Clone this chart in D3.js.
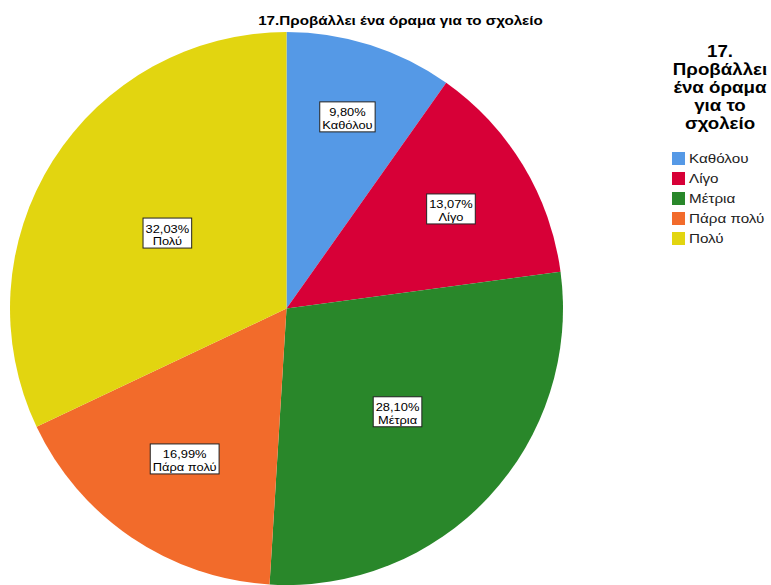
<!DOCTYPE html>
<html>
<head>
<meta charset="utf-8">
<script src="https://cdn.jsdelivr.net/npm/d3@7"></script>
<style>
  html, body { margin: 0; padding: 0; background: #fff; }
  svg { display: block; font-family: "Liberation Sans", Arial, sans-serif; }
</style>
</head>
<body>
<svg id="chart" width="771" height="585"></svg>
<script>
// Responses to "17.Προβάλλει ένα όραμα για το σχολείο" (percent of respondents)
const categories = ["Καθόλου", "Λίγο", "Μέτρια", "Πάρα πολύ", "Πολύ"];
const percents = [9.80, 13.07, 28.10, 16.99, 32.03];
const colors = ["#5599e6", "#d70037", "#29872a", "#f26b2b", "#e2d510"];
const chartTitle = "17.Προβάλλει ένα όραμα για το σχολείο";
const legendTitle = ["17.", "Προβάλλει", "ένα όραμα", "για το", "σχολείο"];

const svg = d3.select("#chart");
const cx = 286.5, cy = 308.5, radius = 276.5;
const stretch = 1.17; // horizontal widening applied to all text glyphs

const data = categories.map((c, i) => ({ category: c, value: percents[i] }));
const color = d3.scaleOrdinal().domain(categories).range(colors);

const pie = d3.pie().value(d => d.value).sort(null);
const arc = d3.arc().innerRadius(0).outerRadius(radius);
const arcs = pie(data);

const g = svg.append("g").attr("transform", `translate(${cx},${cy})`);

g.selectAll("path.slice")
  .data(arcs)
  .join("path")
  .attr("class", "slice")
  .attr("d", arc)
  .attr("fill", d => color(d.data.category));

// Appends a horizontally widened text element anchored at (x, y)
function addText(parent, x, y, str, opts) {
  return parent.append("text")
    .attr("transform", `translate(${x},${y}) scale(${stretch},1)`)
    .attr("text-anchor", opts.anchor || "start")
    .attr("font-size", opts.size)
    .attr("font-weight", opts.weight || "normal")
    .attr("fill", opts.fill || "#000")
    .text(str);
}

// Value labels: wider slices place their label nearer the centre
const fmt = v => v.toFixed(2).replace(".", ",") + "%";
const labels = g.selectAll("g.label")
  .data(arcs)
  .join("g")
  .attr("class", "label")
  .attr("transform", d => {
    const mid = (d.startAngle + d.endAngle) / 2;
    const half = (d.endAngle - d.startAngle) / 2;
    const dist = radius * (0.823 - 0.311 * half);
    return `translate(${dist * Math.sin(mid)},${-dist * Math.cos(mid)})`;
  });

labels.each(function(d) {
  const sel = d3.select(this);
  const t1 = addText(sel, 0, -0.5, fmt(d.data.value), { anchor: "middle", size: 11 });
  const t2 = addText(sel, 0, 12, d.data.category, { anchor: "middle", size: 11 });
  const w = Math.max(t1.node().getComputedTextLength(), t2.node().getComputedTextLength()) * stretch + 5;
  sel.insert("rect", "text")
    .attr("x", -w / 2)
    .attr("y", -15)
    .attr("width", w)
    .attr("height", 30)
    .attr("fill", "#fff")
    .attr("stroke", "#222")
    .attr("stroke-width", 1);
});

// Chart title
addText(svg, 400.5, 25, chartTitle, { anchor: "middle", size: 13, weight: "bold" });

// Legend
const legend = svg.append("g");
legendTitle.forEach((line, i) => {
  addText(legend, 720, 57 + i * 18.1, line, { anchor: "middle", size: 16, weight: "bold" });
});

const items = legend.selectAll("g.item")
  .data(categories)
  .join("g")
  .attr("class", "item")
  .attr("transform", (d, i) => `translate(672,${152 + i * 20})`);

items.append("rect")
  .attr("width", 13)
  .attr("height", 13)
  .attr("fill", d => color(d));

items.each(function(d) {
  addText(d3.select(this), 17, 11, d, { size: 13, fill: "#222" });
});
</script>
</body>
</html>
